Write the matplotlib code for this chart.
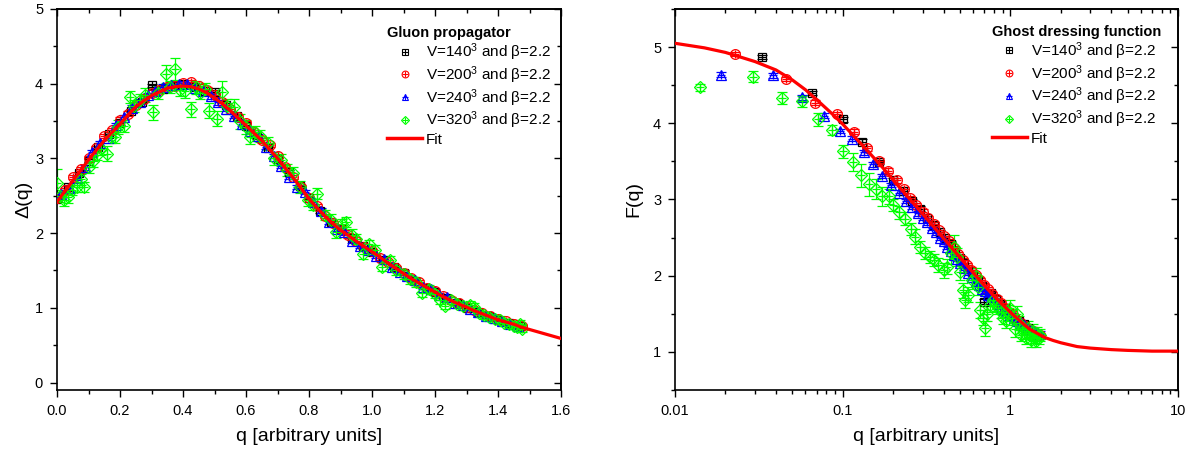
import matplotlib
matplotlib.use('Agg')
import matplotlib.pyplot as plt
from matplotlib.lines import Line2D
from matplotlib.legend_handler import HandlerTuple
from matplotlib.ticker import MultipleLocator, LogLocator, NullFormatter, FixedLocator, FormatStrFormatter

plt.rcParams['font.family'] = ['Liberation Sans', 'DejaVu Sans']
plt.rcParams['mathtext.fontset'] = 'custom'
plt.rcParams['mathtext.rm'] = 'Liberation Sans'
plt.rcParams['mathtext.it'] = 'Liberation Sans:italic'
plt.rcParams['mathtext.bf'] = 'Liberation Sans:bold'

# ---------------- Gluon propagator (left) ----------------
fit_q_left = [0.000, 0.025, 0.050, 0.075, 0.100, 0.125, 0.150, 0.175, 0.200, 0.225,
              0.250, 0.275, 0.300, 0.325, 0.350, 0.375, 0.400, 0.425, 0.450, 0.475,
              0.500, 0.525, 0.550, 0.575, 0.600, 0.625, 0.650, 0.675, 0.700, 0.725,
              0.750, 0.775, 0.800, 0.825, 0.850, 0.875, 0.900, 0.925, 0.950, 0.975,
              1.000, 1.025, 1.050, 1.075, 1.100, 1.125, 1.150, 1.175, 1.200, 1.225,
              1.250, 1.275, 1.300, 1.325, 1.350, 1.375, 1.400, 1.425, 1.450, 1.475,
              1.500, 1.525, 1.550, 1.575, 1.600]
fit_v_left = [2.42, 2.56, 2.70, 2.84, 2.98, 3.11, 3.24, 3.35, 3.46, 3.58,
              3.69, 3.77, 3.84, 3.89, 3.94, 3.96, 3.97, 3.96, 3.93, 3.88,
              3.81, 3.73, 3.64, 3.54, 3.44, 3.34, 3.24, 3.12, 3.00, 2.87,
              2.74, 2.60, 2.46, 2.34, 2.23, 2.13, 2.04, 1.97, 1.89, 1.82,
              1.75, 1.68, 1.60, 1.53, 1.46, 1.39, 1.33, 1.27, 1.21, 1.15,
              1.10, 1.05, 1.01, 0.96, 0.92, 0.88, 0.84, 0.81, 0.78, 0.74,
              0.71, 0.68, 0.65, 0.62, 0.59]

g140_q = [0.0, 0.035, 0.07, 0.1, 0.13, 0.165, 0.2, 0.235, 0.27, 0.3,
          0.335, 0.37, 0.4, 0.435, 0.47, 0.5, 0.535, 0.57, 0.6, 0.635,
          0.67, 0.7, 0.735, 0.77, 0.8, 0.835, 0.87, 0.9, 0.935, 0.97,
          1.0, 1.035, 1.07, 1.1, 1.135, 1.17, 1.2, 1.235, 1.27, 1.3,
          1.335, 1.37, 1.4, 1.435, 1.47]
g140_v = [2.45, 2.62, 2.80, 2.97, 3.15, 3.33, 3.47, 3.64, 3.76, 3.98,
          3.93, 3.97, 3.99, 3.96, 3.90, 3.89, 3.72, 3.57, 3.43, 3.28,
          3.14, 2.99, 2.82, 2.63, 2.47, 2.29, 2.15, 2.05, 1.93, 1.83,
          1.75, 1.64, 1.54, 1.46, 1.36, 1.27, 1.21, 1.13, 1.06, 1.00,
          0.95, 0.89, 0.84, 0.80, 0.75]
g140_err = 0.02

g200_q = [0.000, 0.025, 0.050, 0.075, 0.100, 0.125, 0.150, 0.175, 0.200, 0.225,
          0.250, 0.275, 0.300, 0.325, 0.350, 0.375, 0.400, 0.425, 0.450, 0.475,
          0.500, 0.525, 0.550, 0.575, 0.600, 0.625, 0.650, 0.675, 0.700, 0.725,
          0.750, 0.775, 0.800, 0.825, 0.850, 0.875, 0.900, 0.925, 0.950, 0.975,
          1.000, 1.025, 1.050, 1.075, 1.100, 1.125, 1.150, 1.175, 1.200, 1.225,
          1.250, 1.275, 1.300, 1.325, 1.350, 1.375, 1.400, 1.425, 1.450, 1.475]
g200_v = [2.47, 2.58, 2.75, 2.86, 3.00, 3.14, 3.30, 3.38, 3.52, 3.60,
          3.72, 3.80, 3.88, 3.92, 3.95, 3.97, 4.01, 4.02, 3.97, 3.92,
          3.85, 3.75, 3.66, 3.55, 3.47, 3.35, 3.24, 3.18, 3.03, 2.88,
          2.75, 2.62, 2.47, 2.36, 2.23, 2.13, 2.06, 1.97, 1.89, 1.82,
          1.76, 1.67, 1.61, 1.53, 1.47, 1.40, 1.34, 1.27, 1.22, 1.16,
          1.11, 1.06, 1.01, 0.97, 0.93, 0.89, 0.85, 0.82, 0.78, 0.75]
g200_err = 0.03

g240_q = [0.0125, 0.0375, 0.0625, 0.0875, 0.1125, 0.1375, 0.1625, 0.1875, 0.2125, 0.2375,
          0.2625, 0.2875, 0.3125, 0.3375, 0.3625, 0.3875, 0.4125, 0.4375, 0.4625, 0.4875,
          0.5125, 0.5375, 0.5625, 0.5875, 0.6125, 0.6375, 0.6625, 0.6875, 0.7125, 0.7375,
          0.7625, 0.7875, 0.8125, 0.8375, 0.8625, 0.8875, 0.9125, 0.9375, 0.9625, 0.9875,
          1.0125, 1.0375, 1.0625, 1.0875, 1.1125, 1.1375, 1.1625, 1.1875, 1.2125, 1.2375,
          1.2625, 1.2875, 1.3125, 1.3375, 1.3625, 1.3875, 1.4125, 1.4375, 1.4625]
g240_v = [2.52, 2.60, 2.74, 2.88, 3.08, 3.20, 3.27, 3.45, 3.55, 3.68,
          3.76, 3.85, 3.90, 3.96, 3.98, 4.00, 3.99, 3.94, 3.90, 3.83,
          3.75, 3.66, 3.57, 3.46, 3.37, 3.30, 3.15, 3.03, 2.90, 2.75,
          2.62, 2.55, 2.42, 2.30, 2.15, 2.06, 2.01, 1.90, 1.83, 1.77,
          1.70, 1.65, 1.55, 1.48, 1.42, 1.37, 1.28, 1.25, 1.17, 1.14,
          1.07, 1.04, 0.98, 0.95, 0.89, 0.87, 0.82, 0.79, 0.75]
g240_err = 0.03

g320_q = [0.000, 0.010, 0.023, 0.035, 0.048, 0.062, 0.075, 0.086, 0.100, 0.113,
          0.127, 0.140, 0.160, 0.170, 0.183, 0.195, 0.214, 0.232, 0.245, 0.262,
          0.280, 0.305, 0.320, 0.345, 0.360, 0.374, 0.390, 0.405, 0.426, 0.440,
          0.455, 0.470, 0.484, 0.508, 0.523, 0.540, 0.563, 0.580, 0.600, 0.614,
          0.630, 0.645, 0.669, 0.690, 0.710, 0.730, 0.750, 0.770, 0.796, 0.812,
          0.826, 0.851, 0.870, 0.887, 0.905, 0.917, 0.935, 0.950, 0.972, 0.990,
          1.010, 1.033, 1.057, 1.075, 1.100, 1.120, 1.140, 1.160, 1.180, 1.200,
          1.215, 1.233, 1.250, 1.270, 1.290, 1.310, 1.324, 1.340, 1.356, 1.373,
          1.390, 1.405, 1.420, 1.435, 1.450, 1.460, 1.470, 1.475]
g320_v = [2.67, 2.50, 2.44, 2.48, 2.58, 2.62, 2.72, 2.62, 2.88, 2.96,
          3.05, 3.12, 3.06, 3.28, 3.28, 3.42, 3.44, 3.82, 3.70, 3.78,
          3.85, 3.62, 3.88, 4.13, 3.95, 4.20, 3.92, 3.90, 3.66, 3.95,
          3.88, 3.93, 3.64, 3.53, 3.89, 3.70, 3.69, 3.50, 3.42, 3.28,
          3.35, 3.30, 3.20, 3.00, 2.98, 2.85, 2.80, 2.62, 2.44, 2.38,
          2.53, 2.24, 2.18, 2.01, 2.12, 2.15, 1.98, 1.92, 1.72, 1.85,
          1.78, 1.55, 1.64, 1.50, 1.45, 1.38, 1.34, 1.20, 1.25, 1.18,
          1.10, 1.03, 1.10, 1.05, 1.02, 1.04, 1.01, 0.93, 0.90, 0.88,
          0.85, 0.84, 0.80, 0.78, 0.76, 0.74, 0.79, 0.72]
g320_err = [0.19, 0.08, 0.08, 0.08, 0.07, 0.07, 0.07, 0.07, 0.07, 0.07,
            0.07, 0.08, 0.10, 0.08, 0.08, 0.09, 0.08, 0.08, 0.08, 0.08,
            0.09, 0.10, 0.09, 0.12, 0.08, 0.15, 0.09, 0.09, 0.10, 0.09,
            0.08, 0.08, 0.10, 0.10, 0.15, 0.10, 0.10, 0.10, 0.09, 0.09,
            0.08, 0.08, 0.09, 0.09, 0.08, 0.08, 0.08, 0.08, 0.08, 0.07,
            0.08, 0.07, 0.07, 0.07, 0.07, 0.07, 0.07, 0.07, 0.07, 0.06,
            0.06, 0.06, 0.06, 0.06, 0.06, 0.06, 0.06, 0.06, 0.05, 0.05,
            0.05, 0.05, 0.05, 0.05, 0.05, 0.05, 0.05, 0.05, 0.05, 0.05,
            0.05, 0.05, 0.05, 0.05, 0.05, 0.05, 0.05, 0.05]

# ---------------- Ghost dressing function (right) ----------------
fit_q_right = [0.01, 0.015, 0.02, 0.03, 0.04, 0.05, 0.06, 0.07, 0.085, 0.1,
               0.13, 0.17, 0.22, 0.3, 0.4, 0.5, 0.65, 0.8, 1.0, 1.15,
               1.3, 1.6, 1.8, 2.0, 2.5, 3.0, 4.0, 5.0, 7.0, 10.0]
fit_v_right = [5.05, 4.99, 4.93, 4.81, 4.70, 4.57, 4.44, 4.31, 4.14, 3.99,
               3.72, 3.44, 3.15, 2.81, 2.49, 2.24, 1.95, 1.73, 1.52, 1.40,
               1.30, 1.19, 1.15, 1.12, 1.07, 1.05, 1.03, 1.02, 1.01, 1.01]

f140_q = [0.033, 0.066, 0.1, 0.131, 0.165, 0.2, 0.23, 0.26, 0.29, 0.32,
          0.35, 0.38, 0.41, 0.44, 0.47, 0.5, 0.53, 0.56, 0.6, 0.64,
          0.68, 0.70, 0.77, 0.82, 0.87, 0.93, 0.99, 1.05, 1.12, 1.2,
          1.28, 1.36, 1.45]
f140_v = [4.87, 4.40, 4.05, 3.76, 3.49, 3.25, 3.11, 2.98, 2.88, 2.76,
          2.67, 2.57, 2.49, 2.41, 2.31, 2.23, 2.17, 2.09, 2.02, 1.95,
          1.87, 1.66, 1.77, 1.70, 1.63, 1.57, 1.50, 1.45, 1.40, 1.36,
          1.31, 1.27, 1.23]
f140_err = 0.03

f200_q = [0.0229, 0.046, 0.0685, 0.092, 0.117, 0.14, 0.164, 0.186, 0.21, 0.233,
          0.253, 0.275, 0.30, 0.325, 0.35, 0.375, 0.40, 0.43, 0.46, 0.49,
          0.52, 0.55, 0.58, 0.62, 0.66, 0.70, 0.74, 0.78, 0.83, 0.88,
          0.93, 0.98, 1.04, 1.10, 1.16, 1.22, 1.29, 1.36, 1.43, 1.5]
f200_v = [4.91, 4.58, 4.27, 4.12, 3.89, 3.67, 3.51, 3.38, 3.25, 3.14,
          3.02, 2.93, 2.84, 2.76, 2.68, 2.60, 2.52, 2.45, 2.36, 2.28,
          2.20, 2.14, 2.08, 2.01, 1.94, 1.88, 1.82, 1.76, 1.70, 1.64,
          1.58, 1.53, 1.48, 1.42, 1.38, 1.34, 1.30, 1.27, 1.24, 1.22]
f200_err = 0.03

f240_q = [0.0189, 0.0384, 0.0575, 0.0772, 0.0963, 0.114, 0.134, 0.151, 0.172, 0.193,
          0.217, 0.24, 0.26, 0.28, 0.30, 0.32, 0.34, 0.36, 0.38, 0.40,
          0.42, 0.44, 0.46, 0.48, 0.50, 0.53, 0.56, 0.59, 0.62, 0.65,
          0.68, 0.71, 0.74, 0.77, 0.80, 0.84, 0.88, 0.92, 0.96, 1.00,
          1.05, 1.10, 1.15, 1.20, 1.26, 1.32, 1.38, 1.44, 1.5]
f240_v = [4.64, 4.63, 4.34, 4.10, 3.90, 3.80, 3.62, 3.46, 3.31, 3.19,
          3.09, 2.98, 2.90, 2.82, 2.76, 2.70, 2.63, 2.57, 2.50, 2.45,
          2.38, 2.33, 2.27, 2.22, 2.17, 2.10, 2.04, 1.98, 1.93, 1.88,
          1.83, 1.80, 1.75, 1.72, 1.68, 1.63, 1.59, 1.55, 1.52, 1.48,
          1.45, 1.41, 1.38, 1.35, 1.32, 1.29, 1.27, 1.25, 1.24]
f240_err = 0.03

f320_q = [0.014, 0.029, 0.0433, 0.0575, 0.0716, 0.0862, 0.100, 0.115, 0.129, 0.143,
          0.159, 0.172, 0.188, 0.200, 0.217, 0.234, 0.254, 0.270, 0.290, 0.310,
          0.330, 0.350, 0.370, 0.400, 0.420, 0.440, 0.460, 0.480, 0.500, 0.520,
          0.540, 0.560, 0.590, 0.620, 0.640, 0.660, 0.690, 0.710, 0.730, 0.760,
          0.790, 0.820, 0.850, 0.880, 0.910, 0.940, 0.970, 1.000, 1.030, 1.060,
          1.090, 1.120, 1.150, 1.180, 1.210, 1.240, 1.270, 1.300, 1.330, 1.360,
          1.390, 1.420, 1.450, 1.480, 1.510]
f320_v = [4.47, 4.61, 4.33, 4.29, 4.05, 3.91, 3.63, 3.49, 3.32, 3.20,
          3.14, 3.04, 3.04, 2.93, 2.83, 2.75, 2.61, 2.51, 2.38, 2.30,
          2.25, 2.21, 2.14, 2.07, 2.12, 2.30, 2.38, 2.25, 2.05, 1.81,
          1.68, 1.75, 1.95, 2.00, 1.85, 1.55, 1.45, 1.31, 1.50, 1.62,
          1.68, 1.62, 1.58, 1.52, 1.45, 1.40, 1.52, 1.58, 1.45, 1.30,
          1.50, 1.38, 1.22, 1.30, 1.25, 1.18, 1.32, 1.25, 1.15, 1.28,
          1.20, 1.14, 1.25, 1.18, 1.22]
f320_err = [0.04, 0.07, 0.08, 0.07, 0.09, 0.07, 0.09, 0.12, 0.15, 0.15,
            0.13, 0.12, 0.10, 0.08, 0.08, 0.08, 0.08, 0.10, 0.08, 0.08,
            0.08, 0.08, 0.09, 0.10, 0.10, 0.15, 0.15, 0.12, 0.10, 0.10,
            0.10, 0.10, 0.12, 0.10, 0.10, 0.10, 0.10, 0.10, 0.10, 0.09,
            0.08, 0.08, 0.08, 0.08, 0.08, 0.08, 0.10, 0.10, 0.10, 0.10,
            0.10, 0.09, 0.08, 0.08, 0.08, 0.08, 0.08, 0.08, 0.08, 0.08,
            0.08, 0.08, 0.08, 0.08, 0.08]

labels = ['V=140$^{3}$ and \u03b2=2.2', 'V=200$^{3}$ and \u03b2=2.2',
          'V=240$^{3}$ and \u03b2=2.2', 'V=320$^{3}$ and \u03b2=2.2', 'Fit']

BLACK, RED, BLUE, GREEN = '#000000', '#ff0000', '#0000ff', '#00ff00'
series_style = [(BLACK, 's', 6.0), (RED, 'o', 7.0), (BLUE, '^', 7.0), (GREEN, 'D', 6.0)]


def draw(ax, q, v, err, style):
    color, marker, ms = style
    ax.errorbar(q, v, yerr=err, fmt='none', ecolor=color, elinewidth=0.9,
                capsize=3.5, capthick=0.9, zorder=2)
    ax.plot(q, v, ls='none', marker=marker, ms=ms, mfc='none', mec=color,
            mew=0.9, zorder=3)
    ax.plot(q, v, ls='none', marker='+', ms=ms * 0.9, mec=color, mew=0.9, zorder=3)


def add_legend(ax, title, anchor):
    handles = []
    for color, marker, ms in series_style:
        h1 = Line2D([], [], ls='none', marker=marker, ms=ms * 0.7, mfc='none',
                    mec=color, mew=0.8)
        h2 = Line2D([], [], ls='none', marker='+', ms=ms * 0.65, mec=color, mew=0.8)
        handles.append((h1, h2))
    handles.append(Line2D([], [], color=RED, lw=2.5))
    leg = ax.legend(handles, labels, handler_map={tuple: HandlerTuple(ndivide=1)},
                    title=title, title_fontproperties={'weight': 'bold', 'size': 10.5},
                    fontsize=11, frameon=False, loc='upper left',
                    bbox_to_anchor=anchor, alignment='left', handlelength=2.3,
                    handletextpad=0.25, labelspacing=0.08, borderpad=0,
                    borderaxespad=0)
    return leg


def style_axes(ax):
    for s in ax.spines.values():
        s.set_linewidth(1.2)
    ax.tick_params(which='both', direction='out', top=False, right=False,
                   labelsize=10.5, width=1.0, colors='k')
    ax.tick_params(which='major', length=5, pad=5)
    ax.tick_params(which='minor', length=3)


def mirror_ticks(ax, xmaj, xmin, ymaj, ymin):
    sx = ax.secondary_xaxis('top')
    sx.xaxis.set_major_locator(xmaj)
    sx.xaxis.set_minor_locator(xmin)
    sx.xaxis.set_minor_formatter(NullFormatter())
    sx.tick_params(which='both', direction='in', labeltop=False, width=1.0)
    sx.tick_params(which='major', length=5)
    sx.tick_params(which='minor', length=3)
    sy = ax.secondary_yaxis('right')
    sy.yaxis.set_major_locator(ymaj)
    sy.yaxis.set_minor_locator(ymin)
    sy.tick_params(which='both', direction='in', labelright=False, width=1.0)
    sy.tick_params(which='major', length=5)
    sy.tick_params(which='minor', length=3)
    for s in list(sx.spines.values()) + list(sy.spines.values()):
        s.set_linewidth(1.2)


fig = plt.figure(figsize=(11.93, 4.55), dpi=100)
ax1 = fig.add_axes([57 / 1193, 1 - 390 / 455, 504 / 1193, 381 / 455])
ax2 = fig.add_axes([675 / 1193, 1 - 390 / 455, 503 / 1193, 381 / 455])

# Left panel
draw(ax1, g140_q, g140_v, g140_err, series_style[0])
draw(ax1, g200_q, g200_v, g200_err, series_style[1])
draw(ax1, g240_q, g240_v, g240_err, series_style[2])
draw(ax1, g320_q, g320_v, g320_err, series_style[3])
ax1.plot(fit_q_left, fit_v_left, color=RED, lw=2.3, zorder=4)
ax1.set_xlim(0, 1.6)
ax1.set_ylim(-0.1, 5)
style_axes(ax1)
ax1.xaxis.set_major_locator(MultipleLocator(0.2))
ax1.xaxis.set_minor_locator(MultipleLocator(0.1))
ax1.yaxis.set_major_locator(MultipleLocator(1))
ax1.yaxis.set_minor_locator(MultipleLocator(0.5))
ax1.xaxis.set_major_formatter(FormatStrFormatter('%.1f'))
ax1.set_xlabel('q [arbitrary units]', fontsize=14, labelpad=7)
ax1.set_ylabel('\u0394(q)', fontsize=14, labelpad=2)
mirror_ticks(ax1, MultipleLocator(0.2), MultipleLocator(0.1),
             MultipleLocator(1), MultipleLocator(0.5))
add_legend(ax1, 'Gluon propagator', (0.655, 0.955))

# Right panel
draw(ax2, f140_q, f140_v, f140_err, series_style[0])
draw(ax2, f200_q, f200_v, f200_err, series_style[1])
draw(ax2, f240_q, f240_v, f240_err, series_style[2])
draw(ax2, f320_q, f320_v, f320_err, series_style[3])
ax2.plot(fit_q_right, fit_v_right, color=RED, lw=2.3, zorder=4)
ax2.set_xscale('log')
ax2.set_xlim(0.01, 10)
ax2.set_ylim(0.5, 5.5)
style_axes(ax2)
ax2.xaxis.set_major_locator(FixedLocator([0.01, 0.1, 1, 10]))
ax2.set_xticklabels(['0.01', '0.1', '1', '10'])
ax2.xaxis.set_minor_locator(LogLocator(base=10, subs=[2, 3, 4, 5, 6, 7, 8, 9], numticks=20))
ax2.xaxis.set_minor_formatter(NullFormatter())
ax2.yaxis.set_major_locator(FixedLocator([1, 2, 3, 4, 5]))
ax2.yaxis.set_minor_locator(MultipleLocator(0.5))
ax2.set_xlabel('q [arbitrary units]', fontsize=14, labelpad=7)
ax2.set_ylabel('F(q)', fontsize=14, labelpad=8)
mirror_ticks(ax2, FixedLocator([0.01, 0.1, 1, 10]),
             LogLocator(base=10, subs=[2, 3, 4, 5, 6, 7, 8, 9], numticks=20),
             FixedLocator([1, 2, 3, 4, 5]), MultipleLocator(0.5))
add_legend(ax2, 'Ghost dressing function', (0.63, 0.958))

fig.savefig('out.png', dpi=100)
